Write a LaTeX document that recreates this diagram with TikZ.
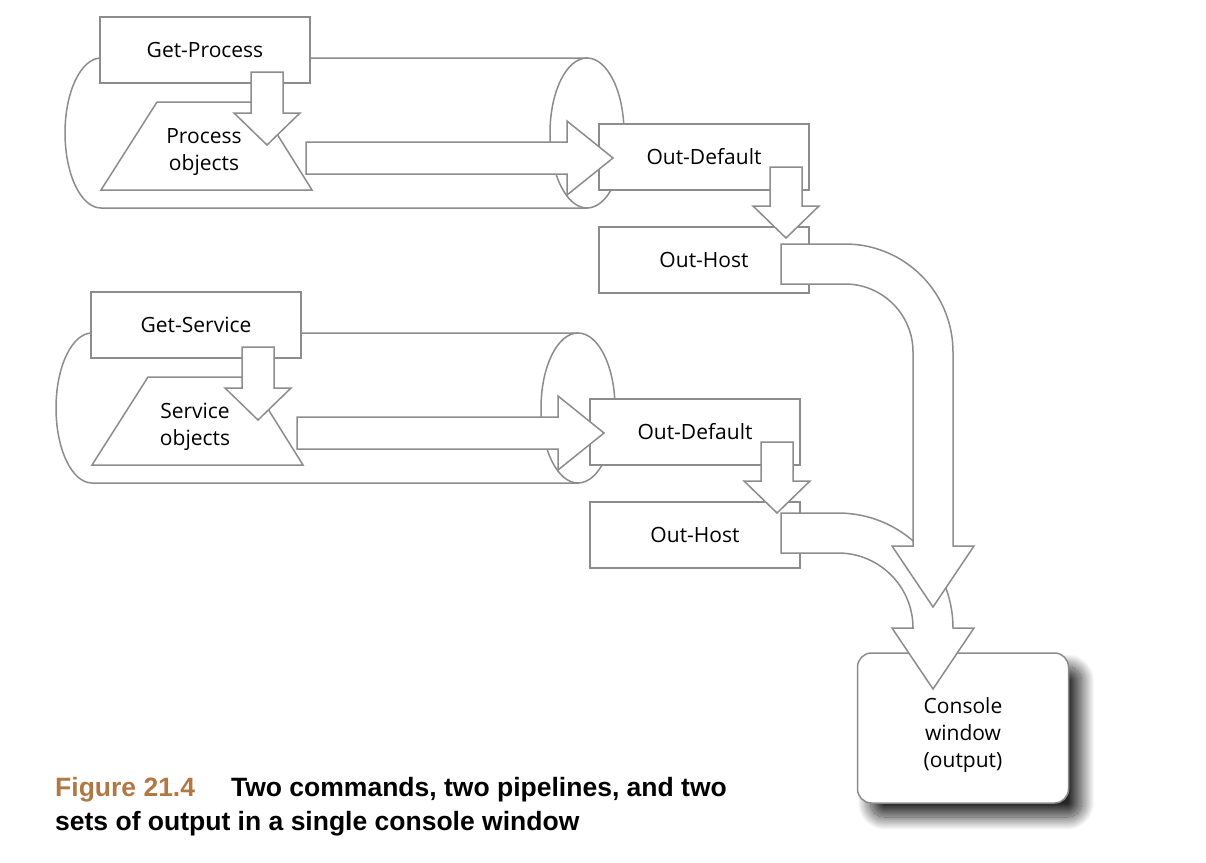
\documentclass[tikz,border=0pt]{standalone}
\usepackage{fontspec}
\setmainfont{Open Sans}
\newfontfamily\capfont{Liberation Sans}
\usetikzlibrary{shadows.blur}
\definecolor{linegray}{RGB}{140,140,140}
\definecolor{figbrown}{RGB}{176,120,66}
\tikzset{
  cmdbox/.style={draw=linegray, fill=white, line width=1.5pt, minimum width=210pt, minimum height=66pt, inner sep=0pt},
  pipe/.style={draw=linegray, fill=white, line width=1.5pt},
  blockarrow/.style={draw=linegray, fill=white, line width=1.5pt, line join=miter},
  console/.style={draw=linegray, fill=white, line width=1.5pt, rounded corners=14pt,
    minimum width=211pt, minimum height=150pt, align=center,
    blur shadow={shadow xshift=13pt, shadow yshift=-14pt, shadow blur radius=13pt,
      shadow blur steps=40, shadow opacity=85}},
  caption/.style={anchor=base west, inner sep=0pt, font=\capfont\bfseries\fontsize{26.5}{35}\selectfont}
}
% straight block arrows: x/shaft top/tip and y/shaft start/tip
\newcommand{\downblock}[3]{%
  \draw[blockarrow] ({#1-16},#2) -- ({#1+16},#2) -- ({#1+16},{#3-32}) -- ({#1+33},{#3-32})
    -- (#1,#3) -- ({#1-33},{#3-32}) -- ({#1-16},{#3-32}) -- cycle;}
\newcommand{\rightblock}[3]{%
  \draw[blockarrow] (#2,{#1-16}) -- ({#3-46},{#1-16}) -- ({#3-46},{#1-37}) -- (#3,#1)
    -- ({#3-46},{#1+37}) -- ({#3-46},{#1+16}) -- (#2,{#1+16}) -- cycle;}
\begin{document}
\begin{tikzpicture}[x=1pt, y=-1pt, font=\fontsize{21}{27}\selectfont]
    \useasboundingbox (0,0) rectangle (1206,862);

    % First pipeline
    \begin{scope}
        \draw[pipe] (101,58) -- (587,58) -- (587,208) -- (101,208)
            arc[start angle=90, end angle=270, x radius=36, y radius=75] -- cycle;
        \draw[pipe] (587,133) ellipse[x radius=37, y radius=75];
        \node[cmdbox] (getproc) at (205,50) {Get-Process};
        \draw[pipe] (101,190) -- (157,102) -- (257,102) -- (312,190) -- cycle;
        \node[align=center] (procobj) at (204,152) {Process\\objects};
        \node[cmdbox] (outdef1) at (704,157) {Out-Default};
        \node[cmdbox] (outhost1) at (704,260) {Out-Host};
        \downblock{267}{72}{145}
        \rightblock{158}{306}{613}
        \downblock{786}{167}{238}
    \end{scope}

    % Second pipeline
    \begin{scope}[shift={(-9,275)}]
        \draw[pipe] (101,58) -- (587,58) -- (587,208) -- (101,208)
            arc[start angle=90, end angle=270, x radius=36, y radius=75] -- cycle;
        \draw[pipe] (587,133) ellipse[x radius=37, y radius=75];
        \node[cmdbox] (getserv) at (205,50) {Get-Service};
        \draw[pipe] (101,190) -- (157,102) -- (257,102) -- (312,190) -- cycle;
        \node[align=center] (servobj) at (204,152) {Service\\objects};
        \node[cmdbox] (outdef2) at (704,157) {Out-Default};
        \node[cmdbox] (outhost2) at (704,260) {Out-Host};
        \downblock{267}{72}{145}
        \rightblock{158}{306}{613}
        \downblock{786}{167}{238}
    \end{scope}

    % Console window
    \node[console] (console) at (963,728) {\rule{0pt}{31pt}Console\\window\\(output)};

    % Curved arrows into the console
    \draw[blockarrow] (781,513) -- (838,513) arc[start angle=270, end angle=360, radius=115]
        -- (974,628) -- (933,689) -- (892,628) -- (913,628)
        arc[start angle=0, end angle=-90, radius=75] -- (781,553) -- cycle;
    \draw[blockarrow] (781,244) -- (845,244) arc[start angle=270, end angle=360, radius=108]
        -- (953,546) -- (974,546) -- (933,607) -- (892,546) -- (913,546) -- (913,352)
        arc[start angle=0, end angle=-90, radius=68] -- (781,284) -- cycle;

    % Caption
    \node[caption] (capline1) at (55,796) {\textcolor{figbrown}{Figure 21.4}\hspace{36pt}Two commands, two pipelines, and two};
    \node[caption] (capline2) at (55,830) {sets of output in a single console window};
\end{tikzpicture}
\end{document}
